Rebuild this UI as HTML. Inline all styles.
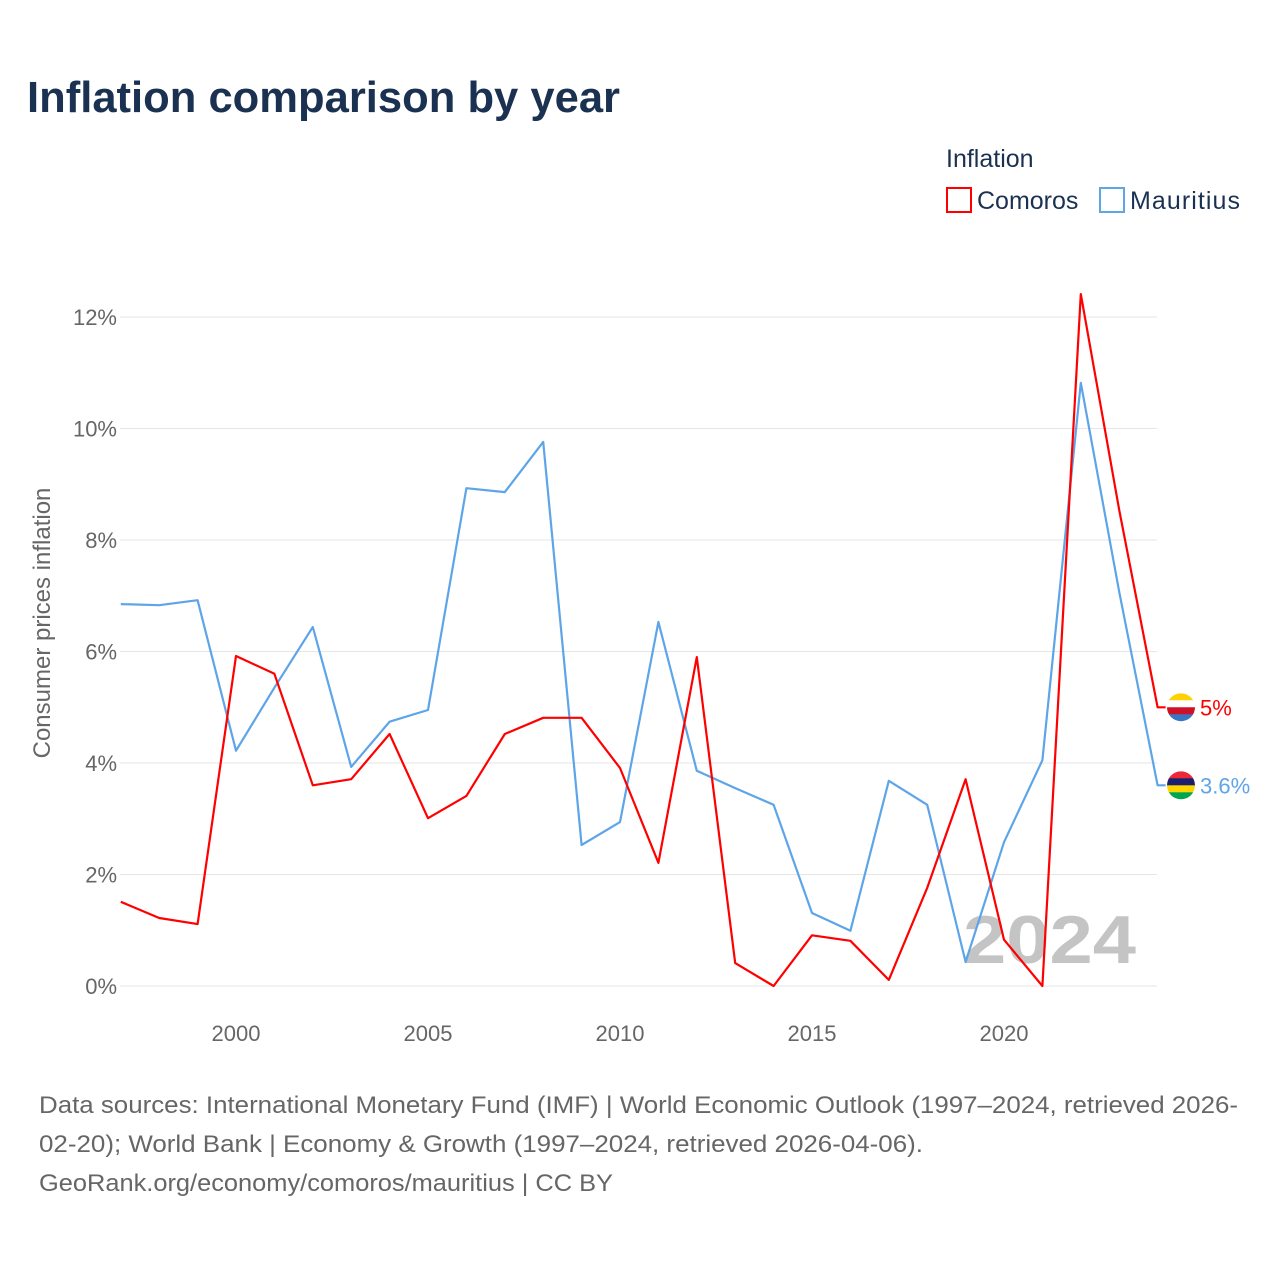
<!DOCTYPE html>
<html><head><meta charset="utf-8">
<style>
body{margin:0;background:#fff;font-family:"Liberation Sans",sans-serif;}
#wrap{position:relative;width:1280px;height:1280px;overflow:hidden;}
</style></head>
<body>
<div id="wrap">
<svg id="chart" width="1280" height="1280">
<text x="27" y="112" font-size="44" font-weight="bold" fill="#1b3152" textLength="593" lengthAdjust="spacingAndGlyphs">Inflation comparison by year</text>
<g>
<text x="946" y="167" font-size="25" fill="#1b3152">Inflation</text>
<g><rect x="947" y="188" width="24" height="24" fill="none" stroke="#ff0000" stroke-width="2"/><text x="977" y="209" font-size="25" fill="#1b3152">Comoros</text></g>
<g><rect x="1100" y="188" width="24" height="24" fill="none" stroke="#5da5e8" stroke-width="2"/><text x="1130" y="209" font-size="25" fill="#1b3152" textLength="110">Mauritius</text></g>
</g>
<g id="grid"></g>
<g id="yticks"></g>
<g id="xticks"></g>
<text transform="translate(50,623) rotate(-90)" text-anchor="middle" font-size="24" fill="#666">Consumer prices inflation</text>
<text x="963" y="963" font-size="68" font-weight="bold" fill="#c4c4c4" textLength="173" lengthAdjust="spacingAndGlyphs">2024</text>
<g id="series"></g>
<g font-size="24" fill="#666">
<text x="39" y="1113" textLength="1199" lengthAdjust="spacingAndGlyphs">Data sources: International Monetary Fund (IMF) | World Economic Outlook (1997–2024, retrieved 2026-</text>
<text x="39" y="1152" textLength="884" lengthAdjust="spacingAndGlyphs">02-20); World Bank | Economy &amp; Growth (1997–2024, retrieved 2026-04-06).</text>
<text x="39" y="1191" textLength="574" lengthAdjust="spacingAndGlyphs">GeoRank.org/economy/comoros/mauritius | CC BY</text>
</g>
</svg>
</div>
<script>
const years=[1997,1998,1999,2000,2001,2002,2003,2004,2005,2006,2007,2008,2009,2010,2011,2012,2013,2014,2015,2016,2017,2018,2019,2020,2021,2022,2023,2024];
const comoros=[1.51,1.22,1.11,5.92,5.6,3.6,3.71,4.52,3.01,3.41,4.52,4.81,4.81,3.91,2.21,5.9,0.41,0,0.91,0.81,0.11,1.76,3.71,0.83,0,12.41,8.54,5.0];
const mauritius=[6.85,6.83,6.92,4.22,5.35,6.44,3.93,4.74,4.95,8.93,8.86,9.76,2.53,2.94,6.53,3.86,3.55,3.25,1.31,0.99,3.68,3.25,0.43,2.58,4.05,10.82,7.07,3.6];
const yTicks=[0,2,4,6,8,10,12];
const xTicks=[2000,2005,2010,2015,2020];
const NS="http://www.w3.org/2000/svg";
const X=y=>120.8+(y-1997)*38.4;
const Y=v=>986-v*55.75;
function mk(tag,attrs,parent){const e=document.createElementNS(NS,tag);for(const k in attrs)e.setAttribute(k,attrs[k]);parent.appendChild(e);return e;}
const grid=document.getElementById('grid'),yt=document.getElementById('yticks'),xt=document.getElementById('xticks'),ser=document.getElementById('series');
yTicks.forEach(t=>{
 const l=mk('line',{x1:120,x2:1157,y1:Y(t),y2:Y(t),stroke:'#e6e6e6','stroke-width':1},grid);
 
 
 const tx=mk('text',{x:117,y:Y(t)+8,'text-anchor':'end','font-size':22,fill:'#666'},yt);
 tx.textContent=t+'%';
 
 
});
xTicks.forEach(t=>{
 const tx=mk('text',{x:X(t),y:1041,'text-anchor':'middle','font-size':22,fill:'#666'},xt);
 tx.textContent=t;
 
 
});
function line(vals,color,name,label,flag){
 let d=vals.map((v,i)=>(i?'L':'M')+X(years[i]).toFixed(1)+','+Y(v).toFixed(1)).join(' ');
 const last=vals[vals.length-1];
 d+=' L'+(X(years[years.length-1])+8)+','+Y(last).toFixed(1);
 const p=mk('path',{d:d,fill:'none',stroke:color,'stroke-width':2.2,'stroke-linejoin':'round'},ser);
 
 
 const cy=Y(last);
 const g=mk('g',{},ser);
 
 
 const cid='c'+name;
 const cp=mk('clipPath',{id:cid},g);mk('circle',{cx:1181,cy:cy,r:14},cp);
 flag.forEach((c,i)=>mk('rect',{x:1167,y:cy-14+i*28/flag.length,width:28,height:28/flag.length+0.5,fill:c,'clip-path':'url(#'+cid+')'},g));
 const t=mk('text',{x:1200,y:cy+8,'font-size':22,fill:color},ser);
 t.textContent=label;
 
 
}
line(mauritius,'#5da5e8','mauritius','3.6%',['#ea2839','#1a206d','#ffd500','#00a551']);
line(comoros,'#ff0000','comoros','5%',['#ffd100','#ffffff','#ce1126','#3a75c4']);
</script>
</body></html>
